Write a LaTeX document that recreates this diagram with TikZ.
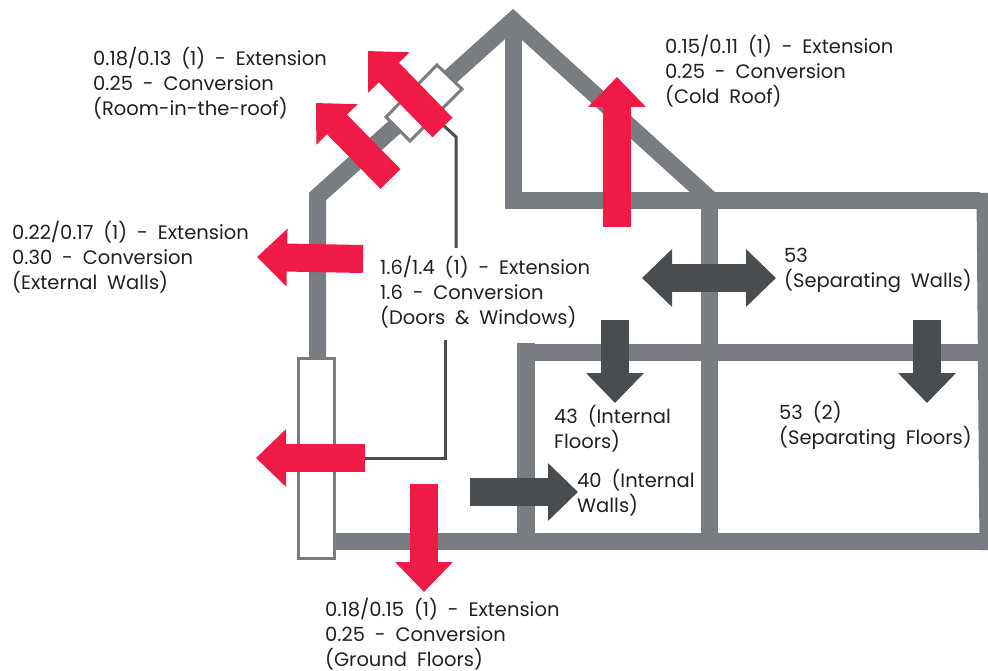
\documentclass[tikz,border=0pt]{standalone}
\usepackage{xcolor}
\usepackage{fontspec}
\setmainfont[WordSpace=1.9]{Poppins}
\usepackage{tikz}
\usetikzlibrary{arrows.meta}
\definecolor{WallGrey}{HTML}{797C80}
\definecolor{HeatRed}{HTML}{F01A47}
\definecolor{SlateDark}{HTML}{4A4D4F}
\definecolor{LabelInk}{HTML}{231F20}

\begin{document}
\begin{tikzpicture}[
    x=1pt, y=-1pt,
    wall/.style={draw=WallGrey, line width=17pt, miter limit=10},
    glazing/.style={draw=WallGrey, fill=white, line width=3pt},
    lead/.style={draw=SlateDark, line width=3pt},
    redarrow/.style={draw=HeatRed, line width=28pt, -{Triangle[length=30pt, width=56pt, fill=HeatRed]}},
    darkarrow/.style={draw=SlateDark, line width=28pt, -{Triangle[length=30pt, width=56pt, fill=SlateDark]}},
    twoway/.style={draw=SlateDark, line width=28pt, {Triangle[length=30pt, width=56pt, fill=SlateDark]}-{Triangle[length=30pt, width=56pt, fill=SlateDark]}},
    uvalue/.style={anchor=west, align=left, inner sep=0pt, text=LabelInk, font=\fontsize{19.5}{25}\selectfont}
]
\useasboundingbox (0,0) rectangle (988,671);

% House Shell
\draw[wall] (317.5,358) -- (317.5,196.5) -- (513,20.4) -- (709.5,198.6);
\draw[wall] (513.5,30) -- (513.5,201) -- (980,201);
\draw[wall] (326,541.5) -- (988,541.5);
\fill[WallGrey] (976.5,193) -- (988,193) -- (988,550) -- (979.5,550) -- cycle;

% Internal Walls and Floors
\draw[wall] (709.5,193) -- (709.5,535);
\draw[wall, line width=18pt] (526,343) -- (526,535);
\draw[wall] (518,352) -- (980,352);

% Glazing
\draw[glazing] (298.5,358) rectangle (334.5,558.5);
\draw[glazing] (386,117) -- (437,65) -- (462,89) -- (410,141) -- cycle;

% Leader Lines
\coordinate (winlead) at (443,125);
\coordinate (winbend) at (456,137);
\coordinate (winfoot) at (456,248);
\coordinate (doorlead) at (445,340);
\coordinate (doorbend) at (445,458);
\coordinate (doorfoot) at (360,458);
\draw[lead] (winlead) -- (winbend) -- (winfoot);
\draw[lead] (doorlead) -- (doorbend) -- (doorfoot);

% Red Arrows: Heat Loss
\coordinate (coldS) at (617,227);
\coordinate (coldN) at (617,77);
\coordinate (roofAS) at (442.5,127.5);
\coordinate (roofAN) at (368,51);
\coordinate (roofBS) at (390.5,179);
\coordinate (roofBN) at (316,103);
\coordinate (extE) at (363,259);
\coordinate (extW) at (257,257);
\coordinate (doorE) at (365,458);
\coordinate (doorW) at (256,458);
\coordinate (groundN) at (424,484);
\coordinate (groundS) at (424,592);
\draw[redarrow] (coldS) -- (coldN);
\draw[redarrow] (roofAS) -- (roofAN);
\draw[redarrow] (roofBS) -- (roofBN);
\draw[redarrow] (extE) -- (extW);
\draw[redarrow] (doorE) -- (doorW);
\draw[redarrow] (groundN) -- (groundS);

% Dark Arrows: Sound
\coordinate (sepW) at (642,278);
\coordinate (sepE) at (776,278);
\coordinate (intfloorN) at (615,320);
\coordinate (intfloorS) at (615,403);
\coordinate (sepfloorN) at (927,320);
\coordinate (sepfloorS) at (927,403);
\coordinate (intwallW) at (470,492);
\coordinate (intwallE) at (578,492);
\draw[twoway] (sepW) -- (sepE);
\draw[darkarrow] (intfloorN) -- (intfloorS);
\draw[darkarrow] (sepfloorN) -- (sepfloorS);
\draw[darkarrow] (intwallW) -- (intwallE);

% Labels
\node[uvalue] (roomroof) at (93,83) {0.18/0.13 (1) - Extension\\0.25 - Conversion\\(Room-in-the-roof)};
\node[uvalue] (coldroof) at (665,71.5) {0.15/0.11 (1) - Extension\\0.25 - Conversion\\(Cold Roof)};
\node[uvalue] (extwalls) at (12,257) {0.22/0.17 (1) - Extension\\0.30 - Conversion\\(External Walls)};
\node[uvalue] (doorswin) at (380,292) {1.6/1.4 (1) - Extension\\1.6 - Conversion\\(Doors \& Windows)};
\node[uvalue] (sepwalls) at (784,270) {53\\(Separating Walls)};
\node[uvalue] (intfloors) at (554,428.5) {43 (Internal\\Floors)};
\node[uvalue] (sepfloors) at (779,425.5) {53 (2)\\(Separating Floors)};
\node[uvalue] (intwalls) at (577,492.5) {40 (Internal\\Walls)};
\node[uvalue] (groundfl) at (325,634) {0.18/0.15 (1) - Extension\\0.25 - Conversion\\(Ground Floors)};

\end{tikzpicture}
\end{document}
